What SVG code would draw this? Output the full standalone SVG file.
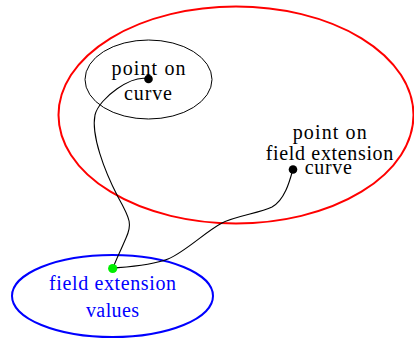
<svg xmlns="http://www.w3.org/2000/svg" width="414" height="341" viewBox="0 0 414 341" font-family="'Liberation Serif','DejaVu Serif','Noto Serif',serif">
<style>
text{font-family:'Liberation Serif','DejaVu Serif','Noto Serif',serif;font-size:20px;text-anchor:middle}
.conn{fill:none;stroke:#000;stroke-width:1.1}
.blk{fill:#000}
</style>
<rect width="414" height="341" fill="#fff"/>
<g id="field-extension-curve-set">
<ellipse cx="236" cy="115" rx="177.5" ry="108.5" fill="none" stroke="#ff0000" stroke-width="2"/>
</g>
<g id="curve-set">
<ellipse cx="148.5" cy="79.5" rx="63.5" ry="39.5" fill="none" stroke="#000" stroke-width="1"/>
</g>
<g id="values-set">
<ellipse cx="112.5" cy="296" rx="100.5" ry="41" fill="none" stroke="#0000ff" stroke-width="2"/>
<text x="112.5" y="290" fill="#0000ff" textLength="127">field extension</text>
<text x="112.5" y="317" fill="#0000ff" textLength="53">values</text>
</g>
<g id="connectors">
<path class="conn" d="M149,79 C132,74 99,98 95,115 C91,135 104,170 118,197 C131,220 132,225 126,238 C120,252 116,260 113,268"/>
<path class="conn" d="M293,169 C290,180 285,200 272,207 C260,213 235,216 222,223 C205,232 185,252 168,259 C150,266 125,267 113,268"/>
</g>
<g id="point-on-curve">
<circle class="blk" cx="148.5" cy="79" r="4.3"/>
<text x="148.5" y="75" textLength="74">point on</text>
<text x="148" y="100" textLength="48">curve</text>
</g>
<g id="point-on-field-extension-curve">
<circle class="blk" cx="293" cy="169.5" r="4.3"/>
<text x="329.7" y="139" textLength="74">point on</text>
<text x="329.5" y="159.5" textLength="127.5">field extension</text>
<text x="328.3" y="173.5" textLength="47">curve</text>
</g>
<g id="field-extension-value">
<circle cx="112.7" cy="268.5" r="4.6" fill="#00ee00"/>
</g>
</svg>
